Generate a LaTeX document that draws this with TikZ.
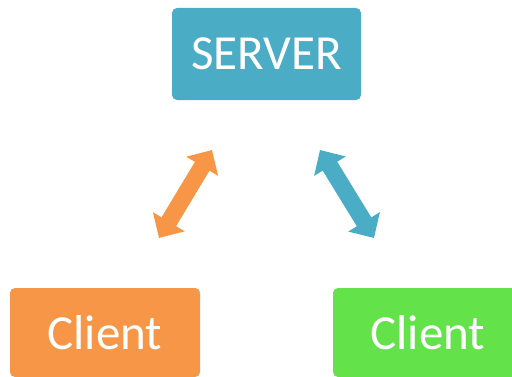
\documentclass[tikz,border=0pt]{standalone}
\usepackage{fontspec}
\setmainfont{Carlito}
\usetikzlibrary{arrows.meta}
\definecolor{teal1}{HTML}{4BACC6}
\definecolor{orange1}{HTML}{F79646}
\definecolor{green1}{HTML}{63E24A}
\tikzset{
  box/.style={rounded corners=5pt, text=white, inner sep=0pt, font=\fontsize{49}{52}\selectfont},
  dbl/.style={line width=17pt, {Triangle[width=36pt,length=19pt]}-{Triangle[width=36pt,length=19pt]}}
}
\begin{document}
\begin{tikzpicture}[x=1pt,y=1pt]
\useasboundingbox (0,0) rectangle (512,376);
\clip (0,0) rectangle (512,376);
\node[box, fill=teal1, minimum width=189pt, minimum height=92pt] (server) at (266.5,322) {SERVER};
\node[box, fill=orange1, minimum width=190pt, minimum height=89pt] (c1) at (105,43.5) {Client};
\node[box, fill=green1, minimum width=190pt, minimum height=89pt] (c2) at (428,43.5) {Client};
\coordinate (o1) at (159,138);
\coordinate (o2) at (212,226);
\coordinate (t1) at (320,226);
\coordinate (t2) at (374,138);
\draw[dbl, orange1] (o1) -- (o2);
\draw[dbl, teal1] (t1) -- (t2);
\end{tikzpicture}
\end{document}
